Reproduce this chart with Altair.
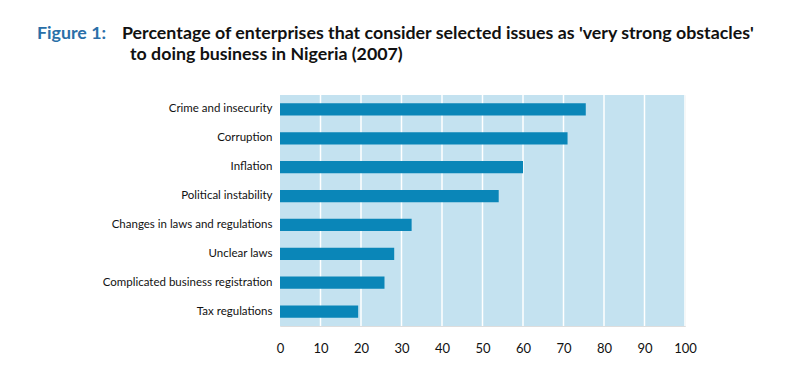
import altair as alt
import pandas as pd

categories = [
    "Crime and insecurity",
    "Corruption",
    "Inflation",
    "Political instability",
    "Changes in laws and regulations",
    "Unclear laws",
    "Complicated business registration",
    "Tax regulations",
]
values = [75.5, 71, 60, 54, 32.5, 28.2, 25.8, 19.3]
x_ticks = [0, 10, 20, 30, 40, 50, 60, 70, 80, 90, 100]

title_label = "Figure 1:"
title_line1 = "Percentage of enterprises that consider selected issues as 'very strong obstacles'"
title_line2 = "to doing business in Nigeria (2007)"

df = pd.DataFrame({"issue": categories, "pct": values})
grid_df = pd.DataFrame({"g": x_ticks[1:]})

W, H = 405, 231
FONT = "Lato"

x_scale = alt.Scale(domain=[0, 100], nice=False)
y_scale = alt.Scale(domain=categories, paddingInner=0.58, paddingOuter=0.29)

bg = alt.Chart(pd.DataFrame({"a": [0], "b": [100]})).mark_rect(color="#c4e2f0").encode(
    x=alt.X("a:Q", scale=x_scale), x2="b:Q",
    y=alt.value(0), y2=alt.value(H),
)

grid = alt.Chart(grid_df).mark_rule(color="white", strokeWidth=1.5).encode(
    x=alt.X("g:Q", scale=x_scale),
    y=alt.value(0), y2=alt.value(H),
)

bars = alt.Chart(df).mark_bar(color="#0a86b8").encode(
    x=alt.X("pct:Q", scale=x_scale,
            axis=alt.Axis(values=x_ticks, title=None, grid=False, domain=False, ticks=False,
                          labelFont=FONT, labelFontSize=13, labelColor="#111",
                          labelPadding=16, labelFlush=False, labelOverlap=False)),
    y=alt.Y("issue:N", scale=y_scale, sort=categories,
            axis=alt.Axis(title=None, domain=False, ticks=False, labelFont=FONT,
                          labelFontSize=11.5, labelColor="#111", labelPadding=8,
                          labelLimit=300)),
)

TS = 17.8
t0 = alt.Chart(pd.DataFrame({"t": [title_label]})).mark_text(
    font=FONT, fontSize=TS, fontWeight="bold", color="#2a6fa8", align="left", baseline="middle"
).encode(text="t:N", x=alt.value(37 - 280), y=alt.value(34 - 95))

t1 = alt.Chart(pd.DataFrame({"t": [title_line1]})).mark_text(
    font=FONT, fontSize=TS, fontWeight="bold", color="#111", align="left", baseline="middle"
).encode(text="t:N", x=alt.value(122 - 280), y=alt.value(34 - 95))

t2 = alt.Chart(pd.DataFrame({"t": [title_line2]})).mark_text(
    font=FONT, fontSize=TS, fontWeight="bold", color="#111", align="left", baseline="middle"
).encode(text="t:N", x=alt.value(130 - 280), y=alt.value(55 - 95))

chart = alt.layer(bg, grid, bars, t0, t1, t2).properties(
    width=W, height=H,
    autosize=alt.AutoSizeParams(type="none"),
    padding={"left": 272, "top": 87, "right": 100, "bottom": 40},
).configure_view(stroke=None).configure(background="white")

chart.save("out.html", embed_options={"renderer": "svg", "actions": False})
